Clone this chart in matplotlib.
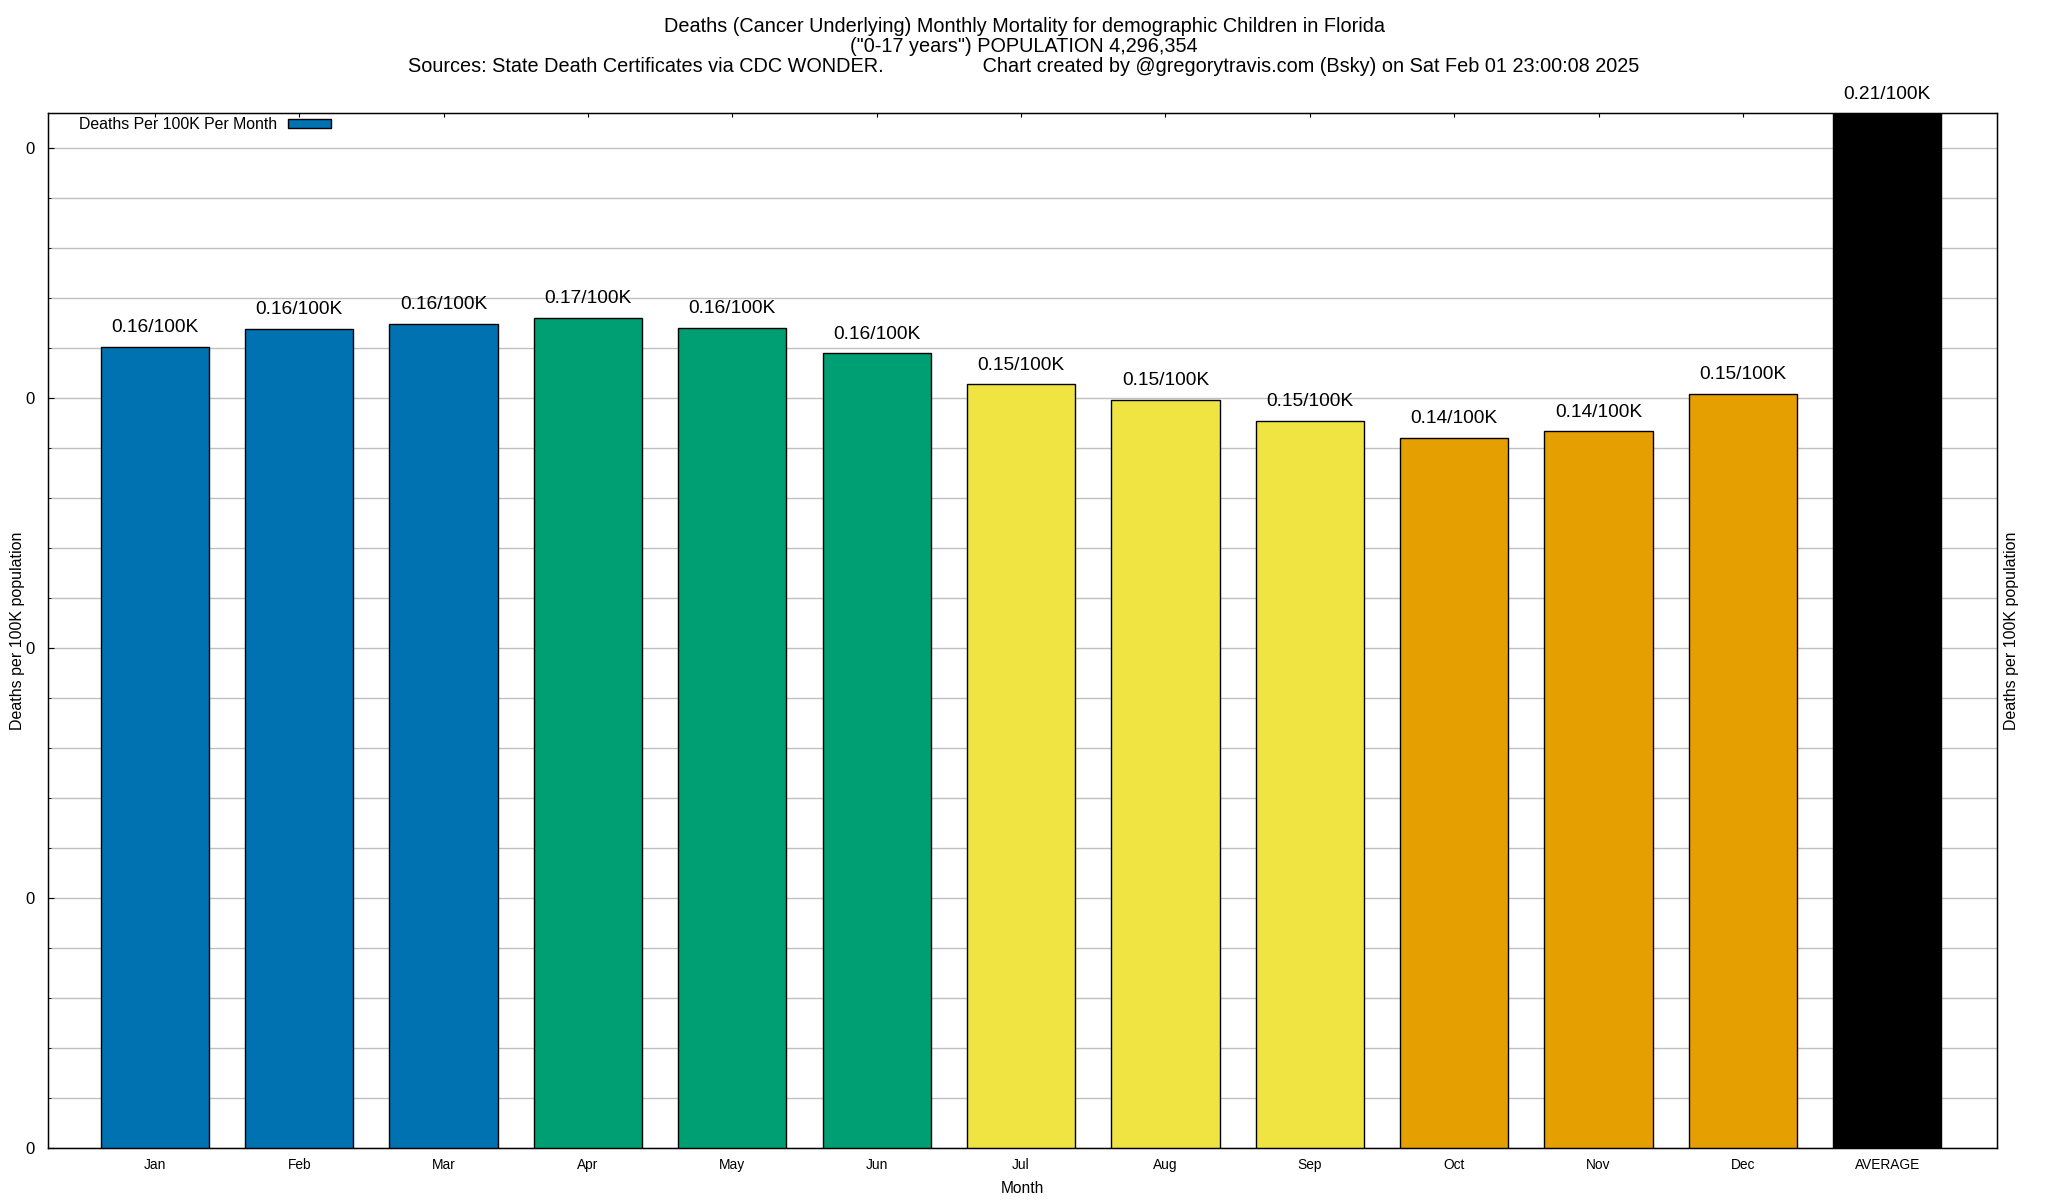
import matplotlib.pyplot as plt
from matplotlib.patches import Patch
from matplotlib.ticker import MultipleLocator, FormatStrFormatter

plt.rcParams['font.family'] = ['Liberation Sans', 'DejaVu Sans']

# Data (deaths per 100K per month)
months = ['Jan', 'Feb', 'Mar', 'Apr', 'May', 'Jun', 'Jul', 'Aug', 'Sep',
          'Oct', 'Nov', 'Dec', 'AVERAGE']
rates = [0.1603, 0.1639, 0.1649, 0.1661, 0.1641, 0.1589, 0.1528, 0.1497,
         0.1455, 0.1421, 0.1434, 0.1509, 0.21]
bar_colors = ['#0072b2'] * 3 + ['#009e73'] * 3 + ['#f0e442'] * 3 + \
             ['#e69f00'] * 3 + ['#000000']

title_lines = [
    'Deaths (Cancer Underlying) Monthly Mortality for demographic Children in Florida',
    '("0-17 years") POPULATION 4,296,354',
    'Sources: State Death Certificates via CDC WONDER.' + ' ' * 18 +
    'Chart created by @gregorytravis.com (Bsky) on Sat Feb 01 23:00:08 2025',
]

fig = plt.figure(figsize=(20.48, 12), dpi=100)
ax = fig.add_axes([48 / 2048, 1 - 1148 / 1200, 1949 / 2048, 1035 / 1200])

x = list(range(len(months)))
ax.bar(x, rates, width=0.75, color=bar_colors, edgecolor='black',
       linewidth=1, zorder=3)

ax.set_xlim(-0.74, len(months) - 0.24)
ytop = 0.207
ax.set_ylim(0, ytop)

# bar value labels
for xi, v in zip(x, rates):
    ax.annotate(f'{v:.2f}/100K', (xi, min(v, ytop)), xytext=(0, 13.5),
                textcoords='offset points', ha='center', va='center',
                fontsize=13.8, annotation_clip=False)

ax.set_xticks(x)
ax.set_xticklabels(months, fontsize=9.9)
ax.yaxis.set_major_locator(MultipleLocator(0.05))
ax.yaxis.set_minor_locator(MultipleLocator(0.01))
ax.yaxis.set_major_formatter(FormatStrFormatter('%.0f'))
ax.tick_params(axis='x', direction='in', top=True, bottom=True, length=3,
               pad=7.5)
ax.tick_params(axis='y', which='major', direction='in', left=True,
               right=True, length=4.3, labelsize=12, pad=9.5)
ax.tick_params(axis='y', which='minor', direction='in', left=True,
               right=True, length=2.2)
ax.yaxis.grid(True, which='both', color='#c0c0c0', linewidth=1)
ax.set_axisbelow(True)
for s in ax.spines.values():
    s.set_linewidth(1)

ax.set_xlabel('Month', fontsize=11.2, labelpad=6)
ax.set_ylabel('Deaths per 100K population', fontsize=11.5, labelpad=0.5)
ax2 = ax.twinx()
ax2.set_ylim(ax.get_ylim())
ax2.set_yticks([])
ax2.set_ylabel('Deaths per 100K population', fontsize=11.5, labelpad=5)

ax.legend(handles=[Patch(facecolor='#0072b2', edgecolor='black',
                         linewidth=1, label='Deaths Per 100K Per Month')],
          loc='upper left', bbox_to_anchor=(0.016, 0.996), frameon=False,
          markerfirst=False, fontsize=11.4, handlelength=2.75,
          handleheight=0.5, handletextpad=0.65, borderpad=0,
          borderaxespad=0)

for i, line in enumerate(title_lines):
    fig.text(0.5, 1 - (26 + 20.3 * i) / 1200, line, ha='center',
             va='center', fontsize=14.3)

fig.savefig('out.png', dpi=100)
